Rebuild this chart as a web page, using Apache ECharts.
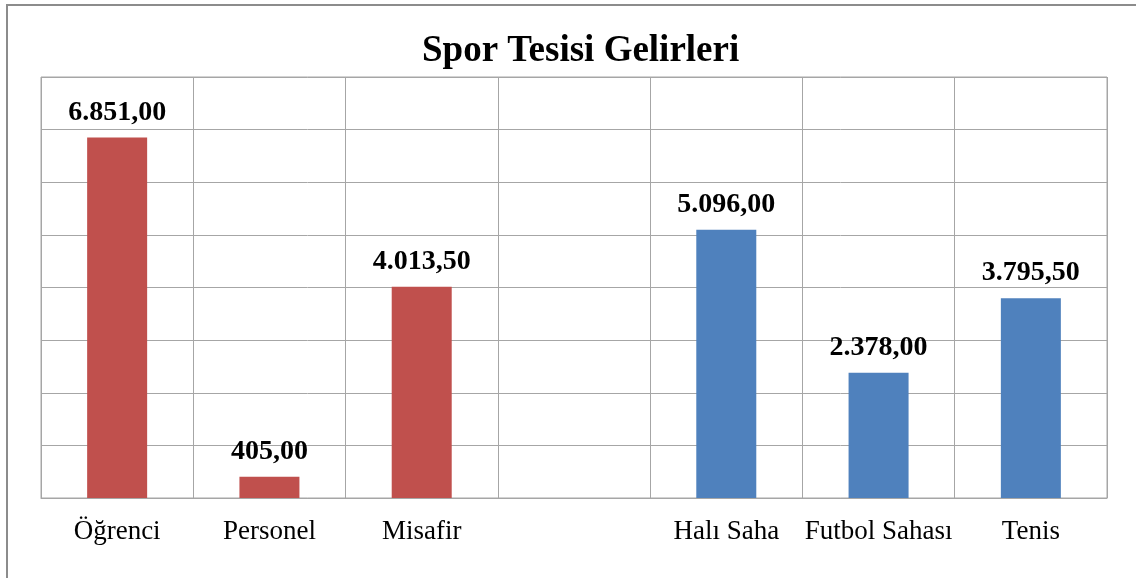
<!DOCTYPE html>
<html>
<head>
<meta charset="utf-8">
<script src="https://cdn.jsdelivr.net/npm/echarts@6/dist/echarts.min.js"></script>
<style>
html, body { margin: 0; padding: 0; background: #fff; overflow: hidden; }
#frame { position: absolute; left: 6px; top: 4px; width: 1140px; height: 590px; border: 2px solid #8c8c8c; }
#chart { position: absolute; left: 0; top: 0; width: 1136px; height: 578px; }
</style>
</head>
<body>
<div id="frame"></div>
<div id="chart"></div>
<script>
let categories = ['Öğrenci', 'Personel', 'Misafir', '', 'Halı Saha', 'Futbol Sahası', 'Tenis'];
let kullaniciGelir = [6851, 405, 4013.5, null, null, null, null];
let tesisGelir = [null, null, null, null, 5096, 2378, 3795.5];

// 6851 -> "6.851,00"
function trFormat(v) {
    let parts = v.toFixed(2).split('.');
    let intPart = parts[0].replace(/\B(?=(\d{3})+(?!\d))/g, '.');
    return intPart + ',' + parts[1];
}

let chart = echarts.init(document.getElementById('chart'));

let labelStyle = {
    show: true,
    position: 'top',
    distance: 11,
    fontFamily: 'Liberation Serif',
    fontWeight: 'bold',
    fontSize: 28,
    color: '#000',
    formatter: p => trFormat(p.value)
};

let option = {
    animation: false,
    title: {
        text: 'Spor Tesisi Gelirleri',
        left: 417,
        top: 28,
        textStyle: {
            fontFamily: 'Liberation Serif',
            fontWeight: 'bold',
            fontSize: 37,
            color: '#000'
        }
    },
    grid: {
        left: 41,
        right: 29,
        top: 77,
        bottom: 80,
        show: true,
        borderColor: '#a6a6a6',
        borderWidth: 1
    },
    xAxis: {
        type: 'category',
        data: categories,
        axisTick: {show: false},
        axisLine: {lineStyle: {color: '#a6a6a6'}},
        splitLine: {show: true, lineStyle: {color: '#a6a6a6'}},
        axisLabel: {
            interval: 0,
            margin: 20,
            fontFamily: 'Liberation Serif',
            fontSize: 27,
            color: '#000'
        }
    },
    yAxis: {
        type: 'value',
        min: 0,
        max: 8000,
        interval: 1000,
        axisLabel: {show: false},
        axisLine: {show: false},
        axisTick: {show: false},
        splitLine: {lineStyle: {color: '#a6a6a6'}}
    },
    series: [
        {
            type: 'bar',
            data: kullaniciGelir,
            barWidth: 60,
            barGap: '-100%',
            itemStyle: {color: '#c0504d'},
            label: labelStyle
        },
        {
            type: 'bar',
            data: tesisGelir,
            barWidth: 60,
            barGap: '-100%',
            itemStyle: {color: '#4f81bd'},
            label: labelStyle
        }
    ]
};

chart.setOption(option);
</script>
</body>
</html>
